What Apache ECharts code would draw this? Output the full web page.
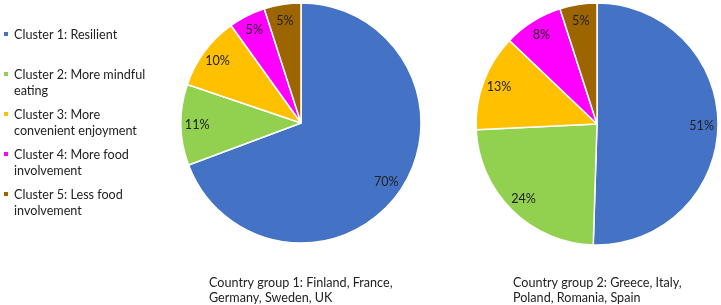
<!DOCTYPE html>
<html>
<head>
<meta charset="utf-8">
<script src="https://cdn.jsdelivr.net/npm/echarts@6.0.0/dist/echarts.min.js"></script>
<style>
  html, body { margin: 0; padding: 0; background: #fff; }
  #chart { width: 721px; height: 305px; }
</style>
</head>
<body>
<div id="chart"></div>
<script>
const clusters = [
  'Cluster 1: Resilient',
  'Cluster 2: More mindful eating',
  'Cluster 3: More convenient enjoyment',
  'Cluster 4: More food involvement',
  'Cluster 5: Less food involvement'
]
// how the legend wraps each name
const legendText = [
  'Cluster 1: Resilient\n ',
  'Cluster 2: More mindful\neating',
  'Cluster 3: More\nconvenient enjoyment',
  'Cluster 4: More food\ninvolvement',
  'Cluster 5: Less food\ninvolvement'
]
const group1Values = [70, 11, 10, 5, 5]
const group2Values = [51, 24, 13, 8, 5]
const groupCaptions = [
  'Country group 1: Finland, France,\nGermany, Sweden, UK',
  'Country group 2: Greece, Italy,\nPoland, Romania, Spain'
]
const colors = ['#4472C4', '#92D050', '#FFC000', '#FF00FF', '#9C6500']

const font = 'Lato'
const fontSize = 12.6
const textColor = '#222'

const toData = values => values.map((v, i) => ({ name: clusters[i], value: v }))

const pieSeries = (values, center, r) => [
  {
    type: 'pie',
    center: center,
    radius: [0, r],
    startAngle: 90,
    clockwise: true,
    silent: true,
    label: { show: false },
    labelLine: { show: false },
    itemStyle: { borderColor: '#fff', borderWidth: 1.5 },
    data: toData(values)
  },
  {
    // transparent ring, only to put the labels out near the rim
    type: 'pie',
    center: center,
    radius: [r * 0.68, r],
    startAngle: 90,
    clockwise: true,
    silent: true,
    itemStyle: { color: 'transparent', borderWidth: 0 },
    label: {
      show: true,
      position: 'inside',
      formatter: p => p.value + '%',
      color: textColor,
      fontFamily: font,
      fontSize: fontSize
    },
    labelLine: { show: false },
    data: toData(values)
  }
]

const chart = echarts.init(document.getElementById('chart'))

const captionStyle = { fontFamily: font, fontSize: fontSize, fontWeight: 'normal', lineHeight: 15, color: textColor }

const option = {
  animation: false,
  color: colors,
  legend: {
    orient: 'vertical',
    left: 2,
    top: 25,
    padding: 0,
    itemWidth: 6,
    itemHeight: 33,
    itemGap: 5,
    icon: 'path://M0,0M6,33M0,5h6v6h-6z',
    data: clusters,
    formatter: name => legendText[clusters.indexOf(name)],
    textStyle: {
      fontFamily: font,
      fontSize: fontSize,
      lineHeight: 16,
      color: textColor
    }
  },
  title: [
    { text: groupCaptions[0], left: 209, top: 275, padding: 0, textStyle: captionStyle },
    { text: groupCaptions[1], left: 513, top: 275, padding: 0, textStyle: captionStyle }
  ],
  series: [
    ...pieSeries(group1Values, [301, 123], 120),
    ...pieSeries(group2Values, [597, 124], 121)
  ]
}

chart.setOption(option)
</script>
</body>
</html>
